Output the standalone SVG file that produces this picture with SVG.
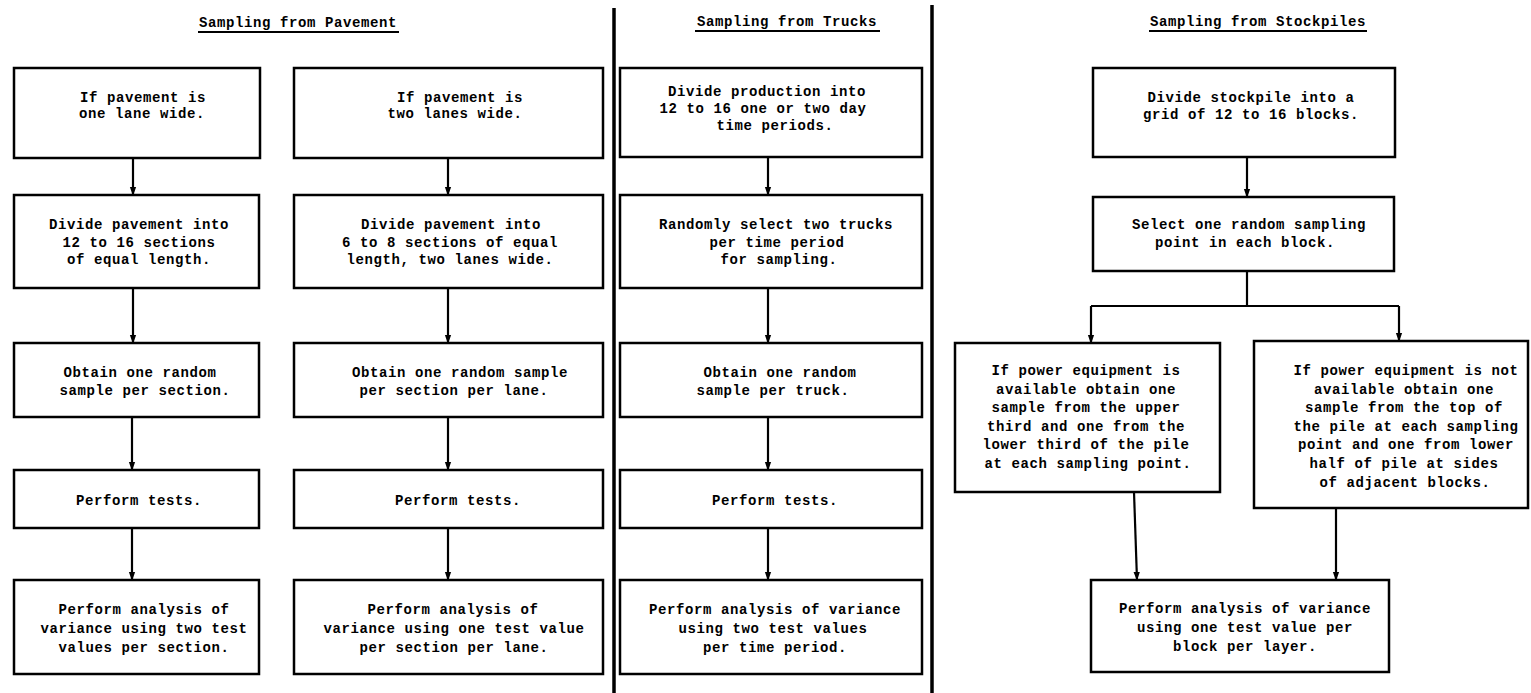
<svg xmlns="http://www.w3.org/2000/svg" width="1531" height="693" viewBox="0 0 1531 693">
<style>
.bg{fill:#fff}
.box{fill:#fff;stroke:#000;stroke-width:2.5}
.t{font-family:"Liberation Mono","DejaVu Sans Mono",monospace;font-weight:bold;font-size:14px;letter-spacing:0.6px;text-anchor:middle;fill:#000}
.h{font-family:"Liberation Mono","DejaVu Sans Mono",monospace;font-weight:bold;font-size:14px;letter-spacing:0.6px;text-anchor:middle;fill:#000}
.ul{stroke:#000;stroke-width:2}
.div{stroke:#000;stroke-width:3.5}
.c{stroke:#000;stroke-width:2.2;fill:none}
.a{marker-end:url(#ah)}
</style>
<defs>
<marker id="ah" viewBox="0 0 10 10" refX="9" refY="5" markerWidth="9" markerHeight="9" orient="auto" markerUnits="userSpaceOnUse">
<path d="M0,1.5 L10,5 L0,8.5 z" fill="#000"/>
</marker>
</defs>
<rect class="bg" x="0" y="0" width="1531" height="693"/>

<g id="headings">
<text class="h" x="298" y="27">Sampling from Pavement</text>
<line class="ul" x1="198" y1="32" x2="399" y2="32"/>
<text class="h" x="787" y="26">Sampling from Trucks</text>
<line class="ul" x1="695" y1="31" x2="880" y2="31"/>
<text class="h" x="1258" y="26">Sampling from Stockpiles</text>
<line class="ul" x1="1149" y1="31" x2="1367" y2="31"/>
</g>

<g id="dividers">
<line class="div" x1="614" y1="8" x2="614" y2="693"/>
<line class="div" x1="932" y1="5" x2="932" y2="693"/>
</g>

<g id="connectors">
<path class="c a" d="M133,158 V195"/>
<path class="c a" d="M133,288 V343"/>
<path class="c a" d="M132,417 V470"/>
<path class="c a" d="M132,528 V580"/>
<path class="c a" d="M448,158 V195"/>
<path class="c a" d="M448,288 V343"/>
<path class="c a" d="M448,417 V470"/>
<path class="c a" d="M448,528 V580"/>
<path class="c a" d="M768,157 V195"/>
<path class="c a" d="M768,288 V343"/>
<path class="c a" d="M768,417 V470"/>
<path class="c a" d="M768,528 V580"/>
<path class="c a" d="M1247,157 V197"/>
<path class="c" d="M1247,271 V306"/>
<path class="c" d="M1091,306 H1399"/>
<path class="c a" d="M1091,306 V343"/>
<path class="c a" d="M1399,306 V341"/>
<path class="c a" d="M1134,492 L1137,580"/>
<path class="c a" d="M1336,508 V580"/>
</g>

<g id="p1-1"><rect class="box" x="14" y="68" width="246" height="90"/>
<text class="t" x="143" y="102">If pavement is</text>
<text class="t" x="142" y="118">one lane wide.</text></g>
<g id="p1-2"><rect class="box" x="14" y="195" width="245" height="93"/>
<text class="t" x="139" y="229">Divide pavement into</text>
<text class="t" x="139" y="246.5">12 to 16 sections</text>
<text class="t" x="139" y="264">of equal length.</text></g>
<g id="p1-3"><rect class="box" x="14" y="343" width="245" height="74"/>
<text class="t" x="140" y="376.5">Obtain one random</text>
<text class="t" x="145" y="395">sample per section.</text></g>
<g id="p1-4"><rect class="box" x="14" y="470" width="245" height="58"/>
<text class="t" x="139" y="505">Perform tests.</text></g>
<g id="p1-5"><rect class="box" x="14" y="580" width="245" height="94"/>
<text class="t" x="144" y="614">Perform analysis of</text>
<text class="t" x="144" y="633">variance using two test</text>
<text class="t" x="144" y="652">values per section.</text></g>

<g id="p2-1"><rect class="box" x="294" y="68" width="309" height="90"/>
<text class="t" x="460" y="102">If pavement is</text>
<text class="t" x="455" y="118">two lanes wide.</text></g>
<g id="p2-2"><rect class="box" x="294" y="195" width="309" height="93"/>
<text class="t" x="451" y="229">Divide pavement into</text>
<text class="t" x="450" y="246.5">6 to 8 sections of equal</text>
<text class="t" x="450" y="264">length, two lanes wide.</text></g>
<g id="p2-3"><rect class="box" x="294" y="343" width="309" height="74"/>
<text class="t" x="460" y="376.5">Obtain one random sample</text>
<text class="t" x="454" y="395">per section per lane.</text></g>
<g id="p2-4"><rect class="box" x="294" y="470" width="309" height="58"/>
<text class="t" x="458" y="505">Perform tests.</text></g>
<g id="p2-5"><rect class="box" x="294" y="580" width="309" height="94"/>
<text class="t" x="453" y="614">Perform analysis of</text>
<text class="t" x="454" y="633">variance using one test value</text>
<text class="t" x="454" y="652">per section per lane.</text></g>

<g id="t-1"><rect class="box" x="620" y="68" width="302" height="89"/>
<text class="t" x="767" y="96">Divide production into</text>
<text class="t" x="763" y="113">12 to 16 one or two day</text>
<text class="t" x="775" y="130">time periods.</text></g>
<g id="t-2"><rect class="box" x="620" y="195" width="302" height="93"/>
<text class="t" x="776" y="229">Randomly select two trucks</text>
<text class="t" x="777" y="246.5">per time period</text>
<text class="t" x="779" y="264">for sampling.</text></g>
<g id="t-3"><rect class="box" x="620" y="343" width="302" height="74"/>
<text class="t" x="780" y="376.5">Obtain one random</text>
<text class="t" x="773" y="395">sample per truck.</text></g>
<g id="t-4"><rect class="box" x="620" y="470" width="302" height="58"/>
<text class="t" x="775" y="505">Perform tests.</text></g>
<g id="t-5"><rect class="box" x="620" y="580" width="302" height="94"/>
<text class="t" x="775" y="614">Perform analysis of variance</text>
<text class="t" x="773" y="633">using two test values</text>
<text class="t" x="775" y="652">per time period.</text></g>

<g id="s-1"><rect class="box" x="1093" y="68" width="302" height="89"/>
<text class="t" x="1251" y="102">Divide stockpile into a</text>
<text class="t" x="1251" y="119">grid of 12 to 16 blocks.</text></g>
<g id="s-2"><rect class="box" x="1093" y="197" width="301" height="74"/>
<text class="t" x="1249" y="229">Select one random sampling</text>
<text class="t" x="1245" y="247">point in each block.</text></g>
<g id="s-3l"><rect class="box" x="955" y="343" width="265" height="149"/>
<text class="t" x="1086" y="375">If power equipment is</text>
<text class="t" x="1086" y="393.6">available obtain one</text>
<text class="t" x="1086" y="412.2">sample from the upper</text>
<text class="t" x="1086" y="430.8">third and one from the</text>
<text class="t" x="1086" y="449.4">lower third of the pile</text>
<text class="t" x="1088" y="468">at each sampling point.</text></g>
<g id="s-3r"><rect class="box" x="1254" y="341" width="274" height="167"/>
<text class="t" x="1406" y="375">If power equipment is not</text>
<text class="t" x="1404" y="393.6">available obtain one</text>
<text class="t" x="1404" y="412.2">sample from the top of</text>
<text class="t" x="1406" y="430.8">the pile at each sampling</text>
<text class="t" x="1406" y="449.4">point and one from lower</text>
<text class="t" x="1404" y="468">half of pile at sides</text>
<text class="t" x="1405" y="486.6">of adjacent blocks.</text></g>
<g id="s-4"><rect class="box" x="1091" y="580" width="298" height="92"/>
<text class="t" x="1245" y="613">Perform analysis of variance</text>
<text class="t" x="1245" y="632">using one test value per</text>
<text class="t" x="1245" y="651">block per layer.</text></g>
</svg>
